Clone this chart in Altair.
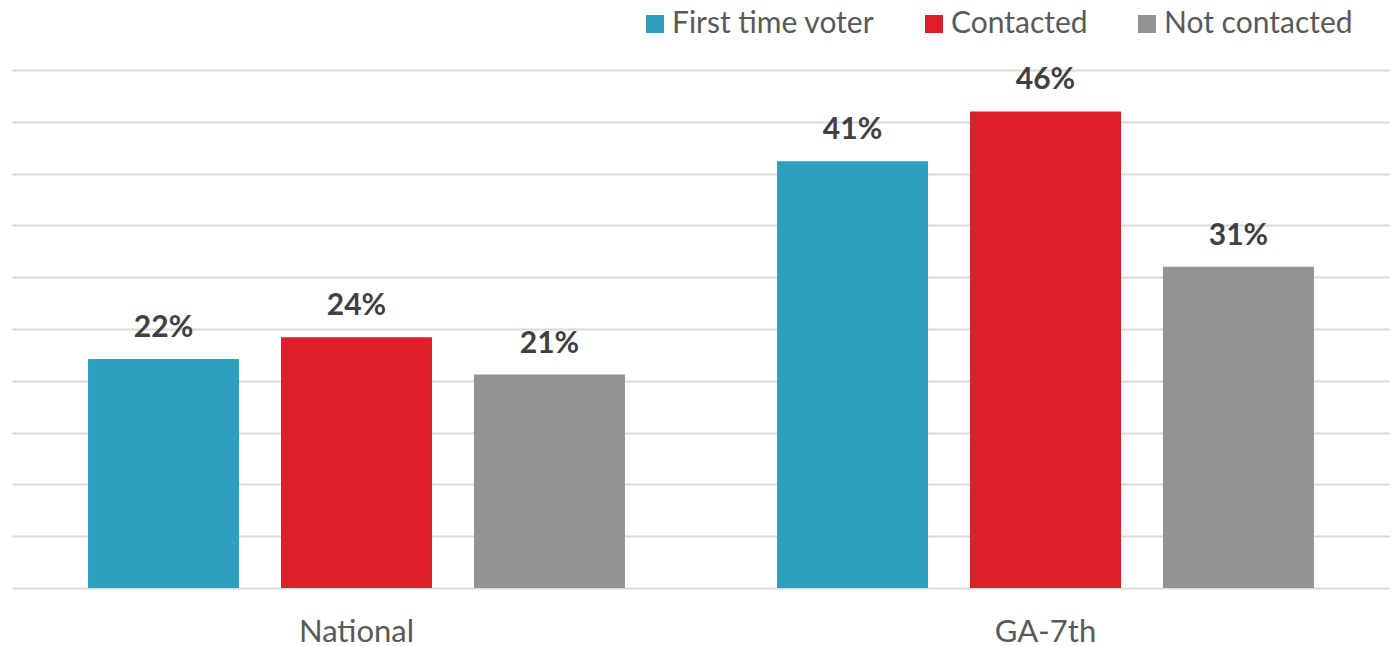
import altair as alt
import pandas as pd

categories = ["National", "National", "National", "GA-7th", "GA-7th", "GA-7th"]
series = ["First time voter", "Contacted", "Not contacted"] * 2
values = [22.1, 24.2, 20.6, 41.2, 46.0, 31.0]
labels = ["22%", "24%", "21%", "41%", "46%", "31%"]

series_order = ["First time voter", "Contacted", "Not contacted"]
colors = ["#2CA1BE", "#DC1F28", "#939393"]
cat_order = ["National", "GA-7th"]
grid_values = [0, 5, 10, 15, 20, 25, 30, 35, 40, 45, 50]

df = pd.DataFrame({"cat": categories, "series": series, "value": values, "label": labels})

FONT = "Lato"

x = alt.X("cat:N", sort=cat_order, title=None,
          scale=alt.Scale(paddingInner=0, paddingOuter=0),
          axis=alt.Axis(labelAngle=0, ticks=False, domain=False, labelFontSize=31,
                        labelColor="#595959", labelPadding=29, labelFont=FONT, grid=False))
xo = alt.XOffset("series:N", sort=series_order,
                 scale=alt.Scale(paddingInner=0.2176, paddingOuter=0.394))
y = alt.Y("value:Q", title=None,
          scale=alt.Scale(domain=[0, 50], nice=False),
          axis=alt.Axis(values=grid_values, labels=False, ticks=False, domain=False,
                        grid=True, gridColor="#d9d9d9", gridWidth=2))

bars = alt.Chart(df).mark_bar().encode(
    x=x, xOffset=xo, y=y,
    color=alt.Color("series:N", sort=series_order,
                    scale=alt.Scale(domain=series_order, range=colors),
                    legend=alt.Legend(title=None, orient="none", direction="horizontal",
                                      legendX=628, legendY=-61, symbolType="square",
                                      symbolSize=324, symbolStrokeWidth=0,
                                      labelFontSize=30, labelFont=FONT, labelColor="#595959",
                                      labelLimit=0, columnPadding=44, labelOffset=2,
                                      symbolOpacity=1)),
)

text = alt.Chart(df).mark_text(baseline="middle", dy=-31, fontSize=30, fontWeight="bold",
                                font=FONT, color="#404040").encode(
    x=x, xOffset=xo, y=y, text="label:N"
)

chart = (bars + text).properties(
    width=1378, height=518,
    padding={"left": 4, "top": 62, "right": 0, "bottom": 70},
    autosize=alt.AutoSizeParams(type="none"),
).configure_view(stroke=None).configure_axis(gridOpacity=1)

chart.save("out.html", embed_options={"renderer": "svg", "actions": False})
